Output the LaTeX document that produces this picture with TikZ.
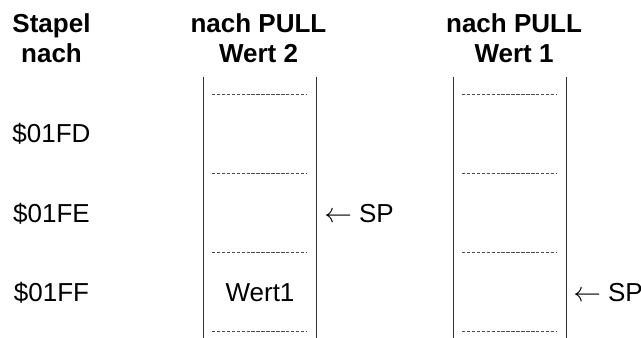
\documentclass[tikz,border=0pt]{standalone}
\usepackage{fontspec}
\setmainfont{Liberation Sans}
\begin{document}
\begin{tikzpicture}[x=0.75pt,y=-0.75pt,
  kopf/.style={font=\bfseries\fontsize{19.5}{22}\selectfont,anchor=base,inner sep=0pt},
  eintrag/.style={font=\fontsize{19.5}{22}\selectfont,anchor=base,inner sep=0pt},
  wand/.style={draw=black!80,line width=0.75pt},
  trenner/.style={draw=black!70,line width=0.55pt,dash pattern=on 2.6pt off 1.1pt}]

  \useasboundingbox (0,0) rectangle (641,338);

  % Kopfzeilen
  \node[kopf] (stapel) at (51.5,33) {Stapel};
  \node[kopf] (nach) at (51.5,63) {nach};
  \foreach \s/\x/\w in {a/258.5/2,b/514/1}
  {
    \node[kopf] (kopf\s) at (\x,33) {nach PULL};
    \node[kopf] (wert\s) at (\x,63) {Wert \w};
  }

  % Adressen
  \foreach \k/\a in {0/FD,1/FE,2/FF}
  {
    \pgfmathtruncatemacro\yb{143+79*\k}
    \node[eintrag] (adr\a) at (51.5,\yb) {\$01\a};
  }

  % Stapelspalten mit Trennlinien
  \foreach \s/\xl in {a/203,b/453}
  {
    \pgfmathtruncatemacro\xr{\xl+113}
    \coordinate (\s-lo) at (\xl,77);
    \coordinate (\s-lu) at (\xl,338);
    \coordinate (\s-ro) at (\xr,77);
    \coordinate (\s-ru) at (\xr,338);
    \draw[wand] (\s-lo) -- (\s-lu);
    \draw[wand] (\s-ro) -- (\s-ru);
    \foreach \k in {0,...,3}
    {
      \pgfmathtruncatemacro\y{94+79*\k}
      \coordinate (\s-t\k l) at (\xl+9,\y);
      \coordinate (\s-t\k r) at (\xr-9,\y);
      \draw[trenner] (\s-t\k l) -- (\s-t\k r);
    }
  }

  % Inhalt und Stapelzeiger
  \node[eintrag] (wertinhalt) at (260,301) {Wert1};
  \node[eintrag,anchor=base west] (spa) at (324,222) {$\leftarrow$ SP};
  \node[eintrag,anchor=base west] (spb) at (573,301) {$\leftarrow$ SP};

\end{tikzpicture}
\end{document}
